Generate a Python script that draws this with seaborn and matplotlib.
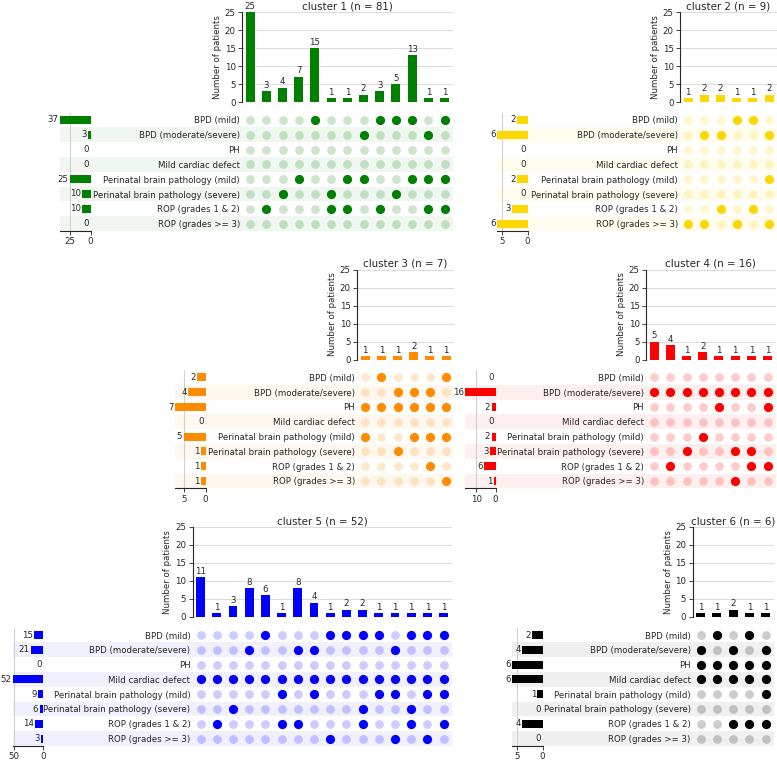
import pandas as pd
import seaborn as sns
import matplotlib.pyplot as plt

categories = ["BPD (mild)", "BPD (moderate/severe)", "PH", "Mild cardiac defect",
              "Perinatal brain pathology (mild)", "Perinatal brain pathology (severe)",
              "ROP (grades 1 & 2)", "ROP (grades >= 3)"]

# each column: number of patients, and which rows (index in categories) are present
c1_counts = [25, 3, 4, 7, 15, 1, 1, 2, 3, 5, 13, 1, 1]
c1_members = [[], [6], [5], [4], [0], [5, 6], [4, 6], [1, 4], [0, 6], [0, 5], [0, 4], [1, 4, 6], [0, 4, 6]]

c2_counts = [1, 2, 2, 1, 1, 2]
c2_members = [[7], [1, 7], [1, 6], [0, 7], [0, 6], [1, 4, 7]]

c3_counts = [1, 1, 1, 2, 1, 1]
c3_members = [[2, 4], [0, 2], [1, 2, 5], [1, 2, 4], [1, 2, 4, 6], [0, 2, 4, 7]]

c4_counts = [5, 4, 1, 2, 1, 1, 1, 1]
c4_members = [[1], [1, 6], [1, 5], [1, 4], [1, 2], [1, 5, 7], [1, 5, 6], [1, 2, 6]]

c5_counts = [11, 1, 3, 8, 6, 1, 8, 4, 1, 2, 2, 1, 1, 1, 1, 1]
c5_members = [[3], [3, 6], [3, 5], [1, 3], [0, 3], [3, 4, 6], [1, 3, 6], [1, 3, 4],
              [0, 3, 7], [0, 3], [0, 3, 5, 6], [0, 3, 4], [1, 3, 4, 7], [0, 3, 5, 6],
              [0, 3, 4, 7], [0, 3, 4, 6]]

c6_counts = [1, 1, 2, 1, 1]
c6_members = [[1, 2, 3], [0, 2, 3], [1, 2, 3, 6], [0, 2, 3, 6], [1, 2, 3, 4, 6]]

titles = ["cluster 1 (n = 81)", "cluster 2 (n = 9)", "cluster 3 (n = 7)",
          "cluster 4 (n = 16)", "cluster 5 (n = 52)", "cluster 6 (n = 6)"]
colors = ["green", "#FFD700", "#FF8C00", "red", "blue", "black"]
size_ticks = [[25, 0], [5, 0], [5, 0], [10, 0], [50, 0], [5, 0]]

# layout in pixels: set-size left, matrix left, top of bar axes, top of matrix
layout = [(60, 242, 12, 112.6), (497, 680, 12, 112.6),
          (175, 357, 269.5, 370), (465, 646, 269.5, 370),
          (12.7, 192.5, 527, 627.6), (512, 692.6, 527, 627.6)]

W, H = 777, 762
COL_W, ROW_H, BAR_H, SIZE_W = 16.2, 14.8, 90, 30.5
FS = 6.2

sns.set_style("white")
plt.rcParams["font.size"] = FS
plt.rcParams["font.family"] = ["DejaVu Sans"]


def frac(x0, y0, w, h):
    return [x0 / W, 1 - (y0 + h) / H, w / W, h / H]


def draw_upset(fig, counts, members, color, title, ticks, pos):
    set_left, mat_left, bar_top, row_top = pos
    n = len(counts)
    mat_w = n * COL_W
    mat_h = 8 * ROW_H

    # totals per row
    totals = [sum(c for c, m in zip(counts, members) if r in m) for r in range(8)]

    # shading stripes
    ax_sh = fig.add_axes(frac(set_left, row_top, mat_left + mat_w - set_left, mat_h))
    ax_sh.set_xlim(0, 1)
    ax_sh.set_ylim(7.5, -0.5)
    for r in range(1, 8, 2):
        ax_sh.axhspan(r - 0.5, r + 0.5, color=color, alpha=0.06, lw=0)
    ax_sh.axis("off")

    # intersection bars
    ax_bar = fig.add_axes(frac(mat_left, bar_top, mat_w, BAR_H))
    sns.barplot(x=list(range(n)), y=counts, color=color, saturation=1, width=0.55,
                linewidth=0, ax=ax_bar)
    ax_bar.bar_label(ax_bar.containers[0], fontsize=FS, padding=1)
    ax_bar.set_xlim(-0.5, n - 0.5)
    ax_bar.set_ylim(0, 25)
    ax_bar.set_yticks(range(0, 26, 5))
    ax_bar.set_xticks([])
    ax_bar.grid(axis="y", color="#dcdcdc", lw=0.8)
    ax_bar.set_axisbelow(True)
    for s in ["top", "right", "bottom"]:
        ax_bar.spines[s].set_visible(False)
    ax_bar.tick_params(axis="y", left=True, length=3, width=0.6, pad=1.5, labelsize=FS)
    ax_bar.set_ylabel("Number of patients", fontsize=FS, labelpad=2)
    ax_bar.set_title(title, fontsize=7.4, pad=2)

    # dot matrix
    ax_m = fig.add_axes(frac(mat_left, row_top, mat_w, mat_h))
    ax_m.set_facecolor("none")
    dots = pd.DataFrame([(c, r, r in members[c]) for c in range(n) for r in range(8)],
                        columns=["col", "row", "on"])
    sns.scatterplot(data=dots[~dots["on"]], x="col", y="row", color=color, alpha=0.2,
                    s=40, linewidth=0, ax=ax_m)
    sns.scatterplot(data=dots[dots["on"]], x="col", y="row", color=color,
                    s=44, linewidth=0, ax=ax_m)
    ax_m.set_xlim(-0.5, n - 0.5)
    ax_m.set_ylim(7.5, -0.5)
    ax_m.set_xticks([])
    ax_m.set_yticks(range(8))
    ax_m.set_yticklabels(categories, fontsize=FS)
    ax_m.tick_params(axis="y", length=0, pad=1.5)
    ax_m.set_xlabel("")
    ax_m.set_ylabel("")
    for s in ax_m.spines.values():
        s.set_visible(False)

    # set sizes
    ax_s = fig.add_axes(frac(set_left, row_top, SIZE_W, mat_h))
    ax_s.set_facecolor("none")
    sns.barplot(x=totals, y=categories, orient="h", color=color, saturation=1, width=0.55,
                linewidth=0, ax=ax_s)
    ax_s.set_xlim(max(totals), 0)
    ax_s.set_ylim(7.5, -0.5)
    ax_s.set_xticks(ticks)
    ax_s.set_yticks([])
    ax_s.set_xlabel("")
    ax_s.set_ylabel("")
    ax_s.grid(axis="x", color="#d0d0d0", lw=0.8)
    ax_s.set_axisbelow(True)
    for s in ["top", "right", "left"]:
        ax_s.spines[s].set_visible(False)
    ax_s.tick_params(axis="x", bottom=True, length=3, width=0.6, pad=1.5, labelsize=FS)
    for i, v in enumerate(totals):
        ax_s.annotate(str(v), (v, i), xytext=(-1, 0), textcoords="offset points",
                      ha="right", va="center", fontsize=FS)


fig = plt.figure(figsize=(W / 100, H / 100), dpi=100)

all_counts = [c1_counts, c2_counts, c3_counts, c4_counts, c5_counts, c6_counts]
all_members = [c1_members, c2_members, c3_members, c4_members, c5_members, c6_members]

for k in range(6):
    draw_upset(fig, all_counts[k], all_members[k], colors[k], titles[k], size_ticks[k], layout[k])

fig.savefig("out.png", dpi=100)
